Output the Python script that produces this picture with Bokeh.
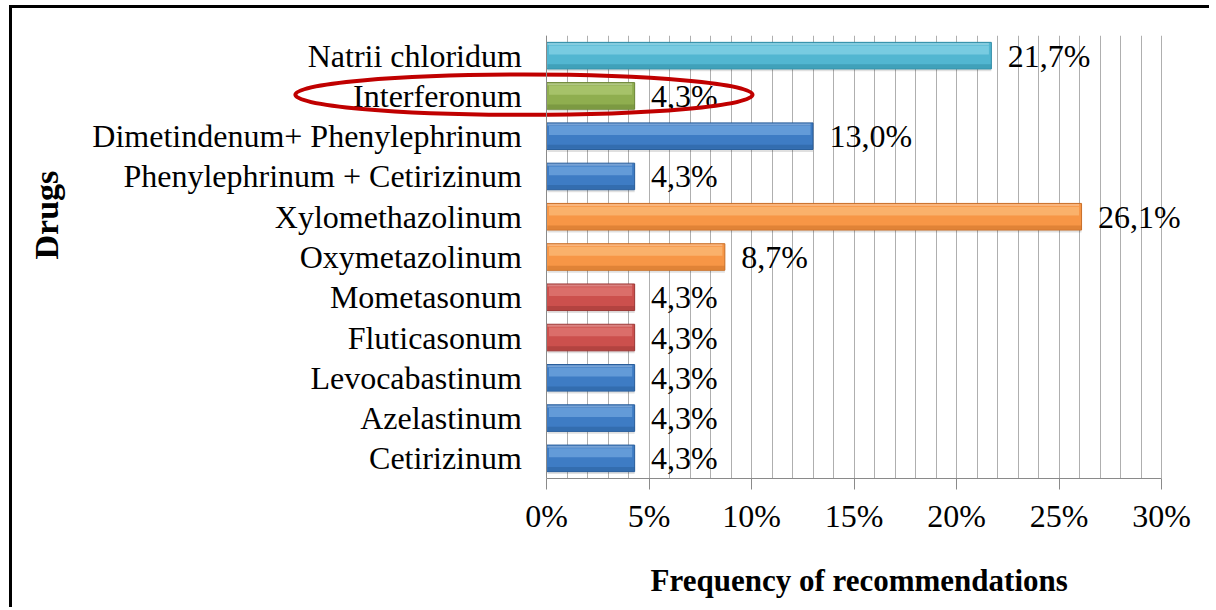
import math
from bokeh.plotting import figure
from bokeh.models import Range1d, FixedTicker, PrintfTickFormatter, ColumnDataSource, Span, Title
from bokeh.core.properties import value
from bokeh.embed import file_html
from bokeh.resources import INLINE

# ---- data ----
drugs = ["Natrii chloridum", "Interferonum", "Dimetindenum+ Phenylephrinum",
         "Phenylephrinum + Cetirizinum", "Xylomethazolinum", "Oxymetazolinum",
         "Mometasonum", "Fluticasonum", "Levocabastinum", "Azelastinum", "Cetirizinum"]
freq = [21.7, 4.3, 13.0, 4.3, 26.1, 8.7, 4.3, 4.3, 4.3, 4.3, 4.3]
groups = ["cyan", "green", "blue", "blue", "orange", "orange", "red", "red", "blue", "blue", "blue"]
x_ticks = [0, 5, 10, 15, 20, 25, 30]
highlighted = "Interferonum"
x_title = "Frequency of recommendations"
y_title = "Drugs"

# ---- styles ----
palette = {
    "cyan":   ("#52B6D1", "#92D9EB", "#2E8BA4"),
    "green":  ("#8FAE4F", "#B5CF7C", "#6A8535"),
    "blue":   ("#3E7CC4", "#7DB0E6", "#285D9A"),
    "orange": ("#F79646", "#FCC384", "#C96F28"),
    "red":    ("#CC504D", "#E4827F", "#9A3634"),
}
FONT = "Liberation Serif"
n = len(drugs)
ys = [n - 1 - i for i in range(n)]
BH = 0.66

PX = 20.5  # px per percent
x0_canvas = 534
frame_left = 10
frame_w = 1190
xs = -(x0_canvas - frame_left) / PX
xe = xs + frame_w / PX

p = figure(width=1200, height=602, output_backend="svg", toolbar_location=None,
           x_range=Range1d(xs, xe), y_range=Range1d(-0.5, n - 0.5),
           y_axis_location=None, min_border_left=frame_left, min_border_right=0,
           min_border_top=27, min_border_bottom=131)
p.styles = {"border-top": "3px solid black", "border-left": "3px solid black",
            "margin-left": "9px", "margin-top": "5px"}
p.outline_line_color = None
p.background_fill_color = "white"
p.border_fill_color = "white"

# grid
p.ygrid.visible = False
p.xgrid.ticker = FixedTicker(ticks=list(range(x_ticks[0], x_ticks[-1] + 1)))
p.xgrid.grid_line_color = "#AFAFAF"
p.xgrid.grid_line_width = 1

# axis
ax = p.xaxis[0]
ax.bounds = (x_ticks[0], x_ticks[-1])
ax.ticker = FixedTicker(ticks=x_ticks)
ax.formatter = PrintfTickFormatter(format="%d%%")
ax.axis_line_color = "#8A8A8A"
ax.major_tick_line_color = "#8A8A8A"
ax.major_tick_out = 11
ax.major_tick_in = 0
ax.minor_tick_out = 0
ax.minor_tick_in = 0
ax.major_label_text_font = FONT
ax.major_label_text_font_size = "32px"
ax.major_label_text_color = "black"
ax.major_label_standoff = 8

# spacer between axis and its title
p.add_layout(Title(text=" ", text_font_size="1px", standoff=8), "below")
# x title (below, shifted to sit centred under the 0-30% axis)
p.add_layout(Title(text=x_title, align="left", offset=628, standoff=26,
                   text_font=FONT, text_font_size="31px", text_font_style="bold",
                   text_color="black"), "below")

p.add_layout(Span(location=0, dimension="height", line_color="#8A8A8A", line_width=1))

src = ColumnDataSource(dict(
    y=ys, right=freq,
    base=[palette[g][0] for g in groups],
    light=[palette[g][1] for g in groups],
    dark=[palette[g][2] for g in groups],
    y_shadow=[y - 0.06 for y in ys],
    y_top=[y + 0.14 for y in ys],
    y_edge=[y + 0.29 for y in ys],
    y_bot=[y - 0.265 for y in ys],
    r_in=[f - 0.12 for f in freq],
    label=[f"{f:.1f}".replace(".", ",") + "%" for f in freq],
    lx=[f + 0.8 for f in freq],
))

# shadow
p.hbar(y="y_shadow", height=BH, left=0.05, right="right", source=src,
       fill_color="black", fill_alpha=0.12, line_color=None)
# base bar
p.hbar(y="y", height=BH, left=0, right="right", source=src,
       fill_color="base", line_color="dark", line_width=1)
# highlights / bevels
p.hbar(y="y_top", height=0.22, left=0.12, right="r_in", source=src,
       fill_color="light", fill_alpha=0.6, line_color=None)
p.hbar(y="y_edge", height=0.05, left=0.05, right="r_in", source=src,
       fill_color="white", fill_alpha=0.3, line_color=None)
p.hbar(y="y_bot", height=0.1, left=0.05, right="right", source=src,
       fill_color="dark", fill_alpha=0.5, line_color=None)

# category labels
lab_src = ColumnDataSource(dict(y=ys, name=drugs))
p.text(x=-1.2, y="y", text="name", source=lab_src, text_align="right", text_baseline="middle",
       text_font=value(FONT), text_font_size="32px", text_color="black")

# value labels
p.text(x="lx", y="y", text="label", source=src, text_align="left", text_baseline="middle",
       text_font=value(FONT), text_font_size="32px", text_color="black")

# highlight ellipse
hy = ys[drugs.index(highlighted)]
p.ellipse(x=-1.1, y=hy + 0.03, width=22.3, height=1.0, fill_color=None,
          line_color="#C00000", line_width=4)

# y title
p.text(x=[-24.39], y=[6.04], text=[y_title], angle=math.pi / 2, text_align="center",
       text_baseline="middle", text_font=value(FONT), text_font_size="34px",
       text_font_style="bold", text_color="black")

open("out.html", "w").write(file_html(p, INLINE))
